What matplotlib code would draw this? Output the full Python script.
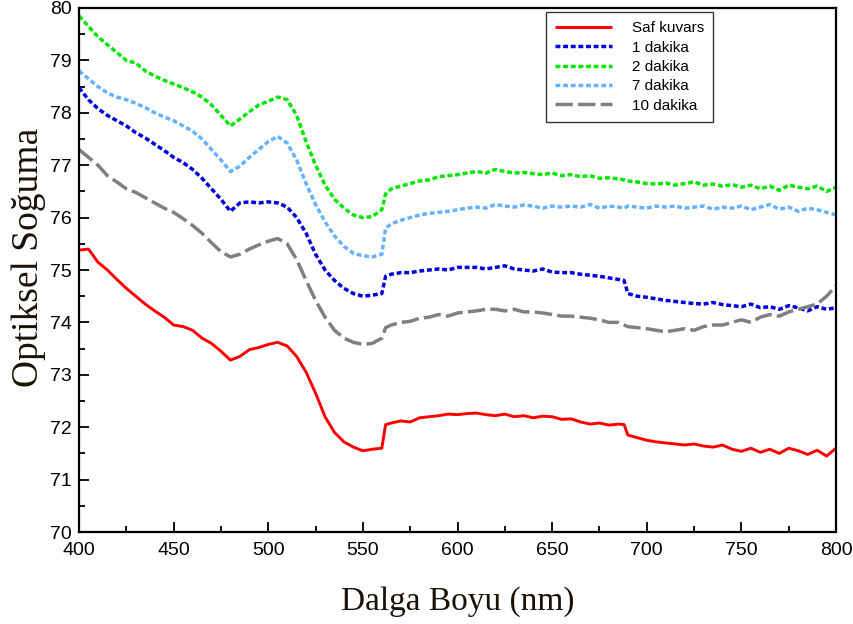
import numpy as np
import matplotlib
matplotlib.use("Agg")
import matplotlib.pyplot as plt
from matplotlib.ticker import MultipleLocator

# wavelength grid (nm); extra points at 562 and 688 catch the detector-change jumps
wl = list(range(400, 561, 5)) + [562] + list(range(565, 686, 5)) + [688] + list(range(690, 801, 5))

saf_kuvars = [
    75.38, 75.40, 75.15, 75.00, 74.82, 74.65, 74.50, 74.35, 74.22, 74.10,
    73.95, 73.92, 73.85, 73.70, 73.60, 73.45, 73.28, 73.35, 73.48, 73.52,
    73.58, 73.62, 73.55, 73.35, 73.05, 72.65, 72.20, 71.90, 71.72, 71.62,
    71.55, 71.58, 71.60,
    72.05, 72.08, 72.12, 72.10, 72.18, 72.20, 72.22, 72.25, 72.24, 72.26,
    72.27, 72.24, 72.22, 72.25, 72.20, 72.22, 72.18, 72.21, 72.20, 72.15,
    72.16, 72.10, 72.06, 72.08, 72.04, 72.06, 72.05,
    71.85, 71.80, 71.75, 71.72, 71.70, 71.68, 71.66, 71.68, 71.64, 71.62,
    71.66, 71.58, 71.54, 71.60, 71.52, 71.58, 71.50, 71.60, 71.55, 71.48, 71.56, 71.45, 71.60,
]
dakika_1 = [
    78.48, 78.25, 78.08, 77.95, 77.85, 77.75, 77.62, 77.52, 77.40, 77.28,
    77.15, 77.05, 76.92, 76.75, 76.55, 76.35, 76.12, 76.28, 76.30, 76.28,
    76.30, 76.28, 76.20, 76.00, 75.70, 75.30, 75.00, 74.80, 74.65, 74.55,
    74.50, 74.52, 74.55,
    74.88, 74.92, 74.95, 74.95, 74.98, 75.00, 75.02, 75.00, 75.05, 75.05,
    75.05, 75.02, 75.05, 75.08, 75.02, 75.00, 74.98, 75.02, 74.96, 74.95,
    74.95, 74.92, 74.90, 74.88, 74.85, 74.82, 74.80,
    74.55, 74.50, 74.48, 74.45, 74.42, 74.40, 74.38, 74.36, 74.35, 74.38,
    74.34, 74.32, 74.30, 74.35, 74.28, 74.30, 74.25, 74.32, 74.28, 74.22, 74.30, 74.25, 74.28,
]
dakika_2 = [
    79.85, 79.65, 79.45, 79.30, 79.15, 79.00, 78.95, 78.80, 78.70, 78.62,
    78.55, 78.48, 78.40, 78.30, 78.15, 77.95, 77.75, 77.88, 78.02, 78.15,
    78.22, 78.30, 78.25, 77.95, 77.45, 77.00, 76.62, 76.35, 76.18, 76.05,
    76.00, 76.02, 76.15,
    76.45, 76.55, 76.60, 76.65, 76.70, 76.72, 76.78, 76.80, 76.82, 76.85,
    76.88, 76.85, 76.92, 76.88, 76.85, 76.86, 76.84, 76.82, 76.85, 76.80,
    76.82, 76.78, 76.80, 76.75, 76.76, 76.74, 76.72,
    76.70, 76.68, 76.65, 76.64, 76.66, 76.62, 76.65, 76.68, 76.62, 76.64,
    76.60, 76.63, 76.58, 76.62, 76.55, 76.60, 76.52, 76.62, 76.58, 76.55, 76.60, 76.50, 76.58,
]
dakika_7 = [
    78.80, 78.65, 78.50, 78.38, 78.30, 78.25, 78.18, 78.10, 78.00, 77.92,
    77.85, 77.75, 77.65, 77.50, 77.30, 77.10, 76.88, 76.98, 77.15, 77.30,
    77.45, 77.55, 77.42, 77.10, 76.65, 76.25, 75.92, 75.65, 75.45, 75.32,
    75.27, 75.25, 75.30,
    75.80, 75.88, 75.95, 76.00, 76.05, 76.08, 76.10, 76.12, 76.15, 76.18,
    76.20, 76.18, 76.25, 76.22, 76.20, 76.24, 76.22, 76.18, 76.22, 76.20,
    76.22, 76.20, 76.25, 76.18, 76.22, 76.20, 76.18,
    76.22, 76.20, 76.18, 76.22, 76.20, 76.22, 76.18, 76.20, 76.22, 76.16,
    76.20, 76.18, 76.22, 76.15, 76.20, 76.25, 76.16, 76.20, 76.12, 76.18, 76.15, 76.10, 76.05,
]
dakika_10 = [
    77.30, 77.15, 77.00, 76.80, 76.68, 76.55, 76.48, 76.38, 76.28, 76.18,
    76.10, 75.98, 75.85, 75.70, 75.52, 75.35, 75.25, 75.30, 75.40, 75.48,
    75.55, 75.60, 75.50, 75.20, 74.80, 74.42, 74.10, 73.85, 73.70, 73.62,
    73.58, 73.60, 73.70,
    73.90, 73.95, 74.00, 74.02, 74.08, 74.10, 74.15, 74.12, 74.18, 74.20,
    74.22, 74.25, 74.25, 74.22, 74.25, 74.20, 74.20, 74.18, 74.15, 74.12,
    74.12, 74.10, 74.08, 74.05, 74.00, 74.00, 73.95,
    73.92, 73.90, 73.88, 73.85, 73.82, 73.85, 73.88, 73.85, 73.92, 73.95,
    73.95, 74.00, 74.05, 74.00, 74.10, 74.15, 74.12, 74.20, 74.25, 74.30, 74.35, 74.50, 74.70,
]

labels = ["Saf kuvars", "1 dakika", "2 dakika", "7 dakika", "10 dakika"]
series = [saf_kuvars, dakika_1, dakika_2, dakika_7, dakika_10]
colors = ["#ff0000", "#0000e0", "#00e600", "#66b2ff", "#808080"]
dots = (0, (1.4, 0.8))
styles = ["-", dots, dots, dots, (0, (5, 1.5))]

plt.rcParams["font.family"] = ["Liberation Sans", "DejaVu Sans"]

fig = plt.figure(figsize=(8.54, 6.24), dpi=100)
ax = fig.add_axes([0.0925, 0.1474, 0.8865, 0.8398])

for lab, y, c, ls in zip(labels, series, colors, styles):
    ax.plot(wl, y, color=c, linestyle=ls, linewidth=2.5 if ls != "-" else 2.1,
            label=lab, solid_capstyle="butt", dash_capstyle="butt")

ax.set_xlim(400, 800)
ax.set_ylim(70, 80)
ax.xaxis.set_major_locator(MultipleLocator(50))
ax.xaxis.set_minor_locator(MultipleLocator(25))
ax.yaxis.set_major_locator(MultipleLocator(1))
ax.yaxis.set_minor_locator(MultipleLocator(0.5))
ax.tick_params(which="both", direction="in", labelsize=14, width=1.3)
ax.tick_params(which="major", length=7)
ax.tick_params(which="minor", length=4)
ax.tick_params(axis="x", pad=7)
ax.tick_params(axis="y", pad=5)
for sp in ax.spines.values():
    sp.set_linewidth(1.6)

ax.set_xlabel("Dalga Boyu (nm)", family=["Liberation Serif", "DejaVu Serif"],
              fontsize=24, color="#1a1208", labelpad=20)
ax.set_ylabel("Optiksel Soğuma", family=["Liberation Serif", "DejaVu Serif"],
              fontsize=27, color="#1a1208")
ax.yaxis.set_label_coords(-0.043, 0.525)

leg = ax.legend(loc="upper right", bbox_to_anchor=(0.8375, 0.992), borderaxespad=0,
                fontsize=11, frameon=True, fancybox=False, edgecolor="black",
                handlelength=3.7, borderpad=0.6, labelspacing=0.35, handletextpad=1.3)
leg.get_frame().set_linewidth(1.0)

fig.savefig("out.png", dpi=100)
